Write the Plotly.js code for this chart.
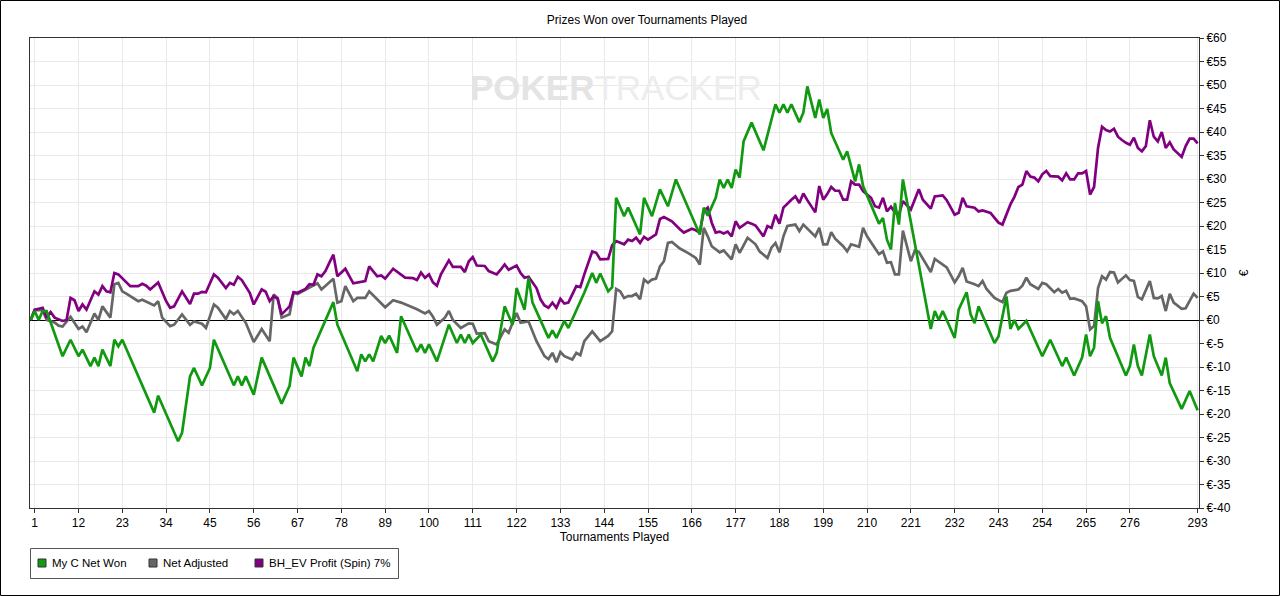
<!DOCTYPE html>
<html>
<head>
<meta charset="utf-8">
<script src="https://cdn.plot.ly/plotly-3.0.1.min.js"></script>
<style>html,body{margin:0;padding:0;background:#fff;}#chart{width:1280px;height:596px;}</style>
</head>
<body>
<div id="chart"></div>
<script>
// ---- data ----
const seriesNames = ["My C Net Won", "Net Adjusted", "BH_EV Profit (Spin) 7%"];
const seriesColors = ["#129912", "#666666", "#800080"];

const netWonX = [0,1,2,3,4,8,10,12,13,15,16,17,18,20,21,22,23,31,32,37,38,40,41,43,45,46,51,52,53,54,56,58,63,65,66,68,69,70,71,76,77,82,83,84,85,86,88,89,90,92,93,97,98,99,100,102,105,107,108,109,110,111,113,114,116,117,119,121,122,124,125,126,130,131,132,134,135,139,141,142,143,145,146,147,149,150,153,154,156,158,160,162,168,169,170,172,173,174,175,176,177,178,179,181,184,187,188,189,190,191,193,194,195,197,198,199,200,201,204,205,207,208,209,213,214,215,216,217,218,219,226,227,228,229,232,233,235,236,237,238,242,243,245,246,247,248,250,254,256,259,260,262,264,265,266,267,268,269,270,271,275,276,277,278,279,281,282,284,285,286,289,291,293];
const netWonY = [0,1.9,0,1.9,1.9,-7.7,-4.2,-7.7,-6.3,-9.8,-8,-9.8,-6.3,-9.8,-4.2,-5.6,-4.2,-19.7,-16.1,-25.8,-24,-12,-10.2,-13.9,-10.2,-4.2,-13.9,-12,-13.9,-12,-15.9,-8,-17.8,-14,-8,-12,-8,-9.8,-5.9,3.8,-1,-10.9,-7.3,-8.8,-7.3,-8.8,-3.4,-4.9,-3.3,-7,0.8,-6.8,-5.2,-7,-5.2,-8.8,-1,-4.9,-3.1,-4.9,-3.1,-4.9,-3.1,-4.9,-8.8,-7,2.9,-1,6.8,2.2,9,3.7,-3.8,-2.2,-3.8,-0.2,-1.7,5.8,10,7.9,9.9,6.1,7,26,22.1,23.9,18.2,26,22.1,27.8,24.2,29.9,18.2,23.9,22.2,26,29.9,28.1,29.9,28.1,32,30.3,38,42,36.1,45.9,44.1,45.9,44.1,45.9,42.1,44.1,49.7,43,46.9,43,44.9,39.8,34.1,35.9,29.5,33.1,28.5,20.5,21.7,17.1,15,24.9,20.3,29.9,-1.9,1.9,0,1.9,-3.8,2.2,5.9,1.2,-0.7,2.9,-4.9,-3.5,5,-1.9,0,-1.9,-0.2,-7.7,-4.2,-9.8,-8,-11.8,-8,-3.1,-7.7,-5.9,4,-0.7,0.8,-3.8,-11.8,-9.8,-5.2,-9.8,-11.8,-3.1,-7.7,-11.8,-8,-13.4,-18.9,-15.1,-19.2];

const netAdjX = [0,1,3,4,6,7,8,10,12,13,14,16,17,18,20,21,22,23,24,27,28,31,32,33,35,36,38,40,41,43,44,46,47,49,50,51,52,54,56,58,60,61,62,63,65,66,67,69,70,72,73,76,77,78,79,81,82,84,85,89,91,93,97,99,100,101,102,104,105,106,108,110,111,112,114,115,117,119,120,122,123,125,127,129,130,131,132,133,134,136,137,138,139,141,143,145,146,147,148,149,150,151,152,153,154,155,156,157,158,159,160,161,163,165,167,168,169,170,171,173,174,176,177,178,180,182,183,185,186,187,188,189,190,192,193,194,195,197,198,199,200,201,202,204,205,206,208,209,210,211,212,213,214,215,216,217,218,219,221,222,223,226,227,229,230,232,233,234,235,237,238,239,240,242,244,245,246,248,249,250,251,253,254,255,257,258,259,260,261,262,264,265,266,267,268,269,270,271,272,273,275,276,277,278,279,281,282,283,284,285,286,287,289,290,291,292,293];
const netAdjY = [0,2.1,2.1,0,-0.5,-1.2,-1.4,0.7,-1.9,-1.4,-2.6,1.4,0,2.9,0.5,7.6,7.9,6.1,5.6,4,4.3,3.1,4,0.5,-1.3,-1,1.2,-1,-0.3,-0.8,-1.7,3.3,2.6,0.2,1.9,1.2,1.9,-0.6,-4.7,-1.9,-4.5,5.4,4.7,0.5,1.2,5.8,5.5,6.5,6.9,7.8,6.5,8.8,3.7,4,7.2,4,4.7,4.7,6.1,2.7,4.2,3.7,2.3,1.4,1.9,0.7,-1,0.5,1.9,0,-1.7,-0.7,-0.8,-2.9,-2.8,-4.5,-5.2,-2,-2.7,1.5,-0.6,-0.3,-4.5,-7.7,-8.3,-7,-9,-6.8,-7.7,-8.4,-7,-7.5,-4.5,-2.4,-4.5,-3.4,-2.4,6.6,6.1,4.7,5.1,5.1,5.6,4.4,8.6,7.9,8.6,8.8,11.4,12.5,16.4,16.6,15.2,14.3,13.2,11.8,19.6,17.8,15.7,14.4,14.8,12.9,16.1,14.3,17.5,16.1,14.6,13.2,15.4,16.4,14.4,17.8,20,20.3,18.9,20.3,19.4,17.8,19.6,16.1,16.1,18.7,17.3,15.7,14.6,16.1,15.6,19.6,17.8,16.5,15.4,14,14.6,12.2,12.3,9.7,9.7,19,12.5,14.8,14.5,10.2,13,11.8,11.2,8,9.3,11.1,8.2,7.6,7.2,8.3,6.6,4.7,3.8,5.8,6.2,6.5,7.3,9,7.6,6.6,7.9,7.6,5.9,6.6,5.8,6.2,4.5,4.6,4,2.9,-2,-1.3,6.8,9.3,8.6,10.2,10.1,8,9.5,8.5,8.3,4.9,4.4,8.3,4.7,4.6,5.1,1.9,5.6,3.7,2.4,2.5,4,5.6,4.7];

const evProfitX = [0,1,2,3,4,5,6,8,9,10,11,12,13,14,16,17,18,19,20,21,22,24,25,27,28,29,30,32,34,35,36,38,40,41,42,43,44,46,47,49,50,51,52,53,55,56,58,59,60,61,62,63,65,66,67,69,70,71,72,73,74,75,76,77,79,81,82,84,85,87,88,89,91,92,94,96,97,98,99,100,101,102,103,105,106,108,109,110,111,112,114,115,117,118,119,120,122,123,124,125,127,128,129,130,131,132,133,134,135,137,138,139,141,142,143,145,146,147,149,150,151,152,153,154,155,157,158,159,161,163,164,166,167,168,169,170,171,172,173,174,175,176,177,178,180,181,182,184,185,186,187,188,189,191,192,193,194,195,196,197,198,199,200,201,202,203,204,205,206,207,208,209,210,211,212,213,214,215,216,217,218,219,221,223,224,226,227,229,230,232,233,234,235,237,238,239,241,242,243,244,246,247,248,249,250,251,252,253,254,255,256,258,259,260,261,262,263,264,265,266,267,268,269,270,271,272,273,274,275,276,277,278,279,280,281,282,283,284,285,286,287,289,290,291,292,293];
const evProfitY = [0,2.2,2.4,2.6,0.5,1.7,0.5,-0.2,0,4.7,4.2,1.9,3.3,2.2,6.1,5.4,7.2,6.1,5.9,10,9.7,7.9,7.2,7.2,7.7,7.3,6.5,8,4,2.6,2.9,6.1,3.4,5.6,5.6,6,5.9,9.7,9,6.8,7.9,7.5,9.2,8.5,5.8,3.3,6.5,6,4,5.1,4.5,1.2,2.9,5.9,5.8,6.6,7.6,7.5,9.7,9.3,10.4,12.2,13.9,9.3,10.9,7.8,8,8.3,11.4,9.3,9.5,8.8,10.9,10.3,9,8.9,8.5,10.1,9,9.7,8,7.3,9.7,12.7,11.3,11.3,10.2,12.5,13.4,11.6,11.5,10.4,9.7,10.7,11.8,10.7,11.6,10,9,9.2,6.8,4.4,3.1,2.6,3.7,2.6,4.5,3.5,3.7,7.2,7,9.7,14.6,14.3,12.9,13,15.9,16.8,16.1,17.1,16.8,17.5,16.4,17.7,17.1,18.2,21.5,21.9,21,19.3,18.6,19.4,19.1,18.6,23.2,23.9,20.7,18.6,18.8,18.4,18.8,17.8,21,19.6,20.8,20.5,20.1,17.8,20,19.6,22.4,20.5,23.9,25.6,26.3,24.9,26.9,25.5,24.2,22.9,28.5,25.6,26.8,28.3,27.5,27.5,25.6,25.6,29.5,28.8,28.8,27.4,26.7,26,24.2,23.9,26,23.1,24.1,22.9,22.4,25.3,23.5,27.8,25.6,23.7,26.3,26.5,25.5,22.4,22.8,26,24.2,23.9,23.1,23.3,22.8,21.7,20.7,20.3,24.6,26.2,28.3,28.8,31.7,30.5,30.3,29.5,31,31.7,30.6,30.5,29.7,31.2,29.9,29.9,31.2,31.2,31.7,26.7,28.3,36.6,41.1,40.4,40.1,40.7,39,38.3,37.7,37.3,38.8,36.6,35.9,37,42.5,39,38,40,36.6,37.8,36.3,34.7,37,38.6,38.6,37.6];

const xTickVals = [1,12,23,34,45,56,67,78,89,100,111,122,133,144,155,166,177,188,199,210,221,232,243,254,265,276,293];
const yTickVals = [-40,-35,-30,-25,-20,-15,-10,-5,0,5,10,15,20,25,30,35,40,45,50,55,60];
const yTickText = yTickVals.map(v => "€" + v);

// ---- geometry helpers (pixel -> paper) ----
const W = 1280, H = 596;
const M = {l: 30, r: 81, t: 38, b: 88};
const PW = W - M.l - M.r, PH = H - M.t - M.b;
const px = x => (x - M.l) / PW;
const py = y => (H - M.b - y) / PH;

const xs = [netWonX, netAdjX, evProfitX];
const ys = [netWonY, netAdjY, evProfitY];
const traces = [];
// draw order: gray, purple, green on top
[1, 2, 0].forEach(i => {
  traces.push({
    type: "scatter", mode: "lines", name: seriesNames[i],
    x: xs[i], y: ys[i],
    line: {color: seriesColors[i], width: 2.7},
    showlegend: false, hoverinfo: "x+y+name"
  });
});

const shapes = [
  // outer frame of the image
  {type: "rect", xref: "paper", yref: "paper", x0: px(0.5), x1: px(W - 0.5), y0: py(H - 0.5), y1: py(0.5),
   line: {color: "#000", width: 1}, fillcolor: "rgba(0,0,0,0)", layer: "above"},
  // legend box
  {type: "rect", xref: "paper", yref: "paper", x0: px(30.5), x1: px(398.5), y0: py(578.5), y1: py(548.5),
   line: {color: "#555", width: 1}, fillcolor: "rgba(0,0,0,0)"}
];
const swatchX = [38, 149, 255];
const textX = [50, 161, 267];
const annotations = [
  {xref: "paper", yref: "paper", x: px(616), y: py(87), xanchor: "center", yanchor: "middle", showarrow: false,
   text: "<b><span style='color:#e4e4e4'>POKER</span></b><span style='color:#ededed'>TRACKER</span>",
   font: {size: 35, family: "Liberation Sans, Arial, sans-serif"}}
];
seriesNames.forEach((n, i) => {
  shapes.push({type: "rect", xref: "paper", yref: "paper", x0: px(swatchX[i]), x1: px(swatchX[i] + 8),
    y0: py(567), y1: py(559), line: {color: "#333", width: 1}, fillcolor: seriesColors[i]});
  annotations.push({xref: "paper", yref: "paper", x: px(textX[i]), y: py(563), xanchor: "left", yanchor: "middle",
    showarrow: false, text: n, font: {size: 11.5, color: "#000"}});
});

const layout = {
  width: W, height: H,
  margin: M,
  paper_bgcolor: "#fff", plot_bgcolor: "#fff",
  font: {family: "Liberation Sans, Arial, sans-serif", size: 12, color: "#000"},
  showlegend: false,
  title: {text: "Prizes Won over Tournaments Played", x: 647 / W, xanchor: "center", y: 1 - 20 / H, yanchor: "middle",
          font: {size: 12, color: "#000"}},
  xaxis: {
    range: [-0.18, 293.35], autorange: false,
    tickmode: "array", tickvals: xTickVals,
    ticks: "outside", ticklen: 4, tickcolor: "#333",
    showgrid: true, gridcolor: "#e9e9e9", gridwidth: 1,
    showline: true, linecolor: "#333", linewidth: 1, mirror: true,
    zeroline: false,
    tickfont: {size: 12},
    title: {text: "Tournaments Played", standoff: 3, font: {size: 12}}
  },
  yaxis: {
    side: "right",
    range: [-40, 60], autorange: false,
    tickmode: "array", tickvals: yTickVals, ticktext: yTickText,
    ticks: "outside", ticklen: 4, tickcolor: "#333",
    showgrid: true, gridcolor: "#e9e9e9", gridwidth: 1,
    showline: true, linecolor: "#333", linewidth: 1, mirror: true,
    zeroline: true, zerolinecolor: "#000", zerolinewidth: 1,
    tickfont: {size: 12},
    title: {text: "€", standoff: 9, font: {size: 12}}
  },
  shapes: shapes,
  annotations: annotations
};

Plotly.newPlot("chart", traces, layout, {displayModeBar: false, staticPlot: true});
</script>
</body>
</html>
